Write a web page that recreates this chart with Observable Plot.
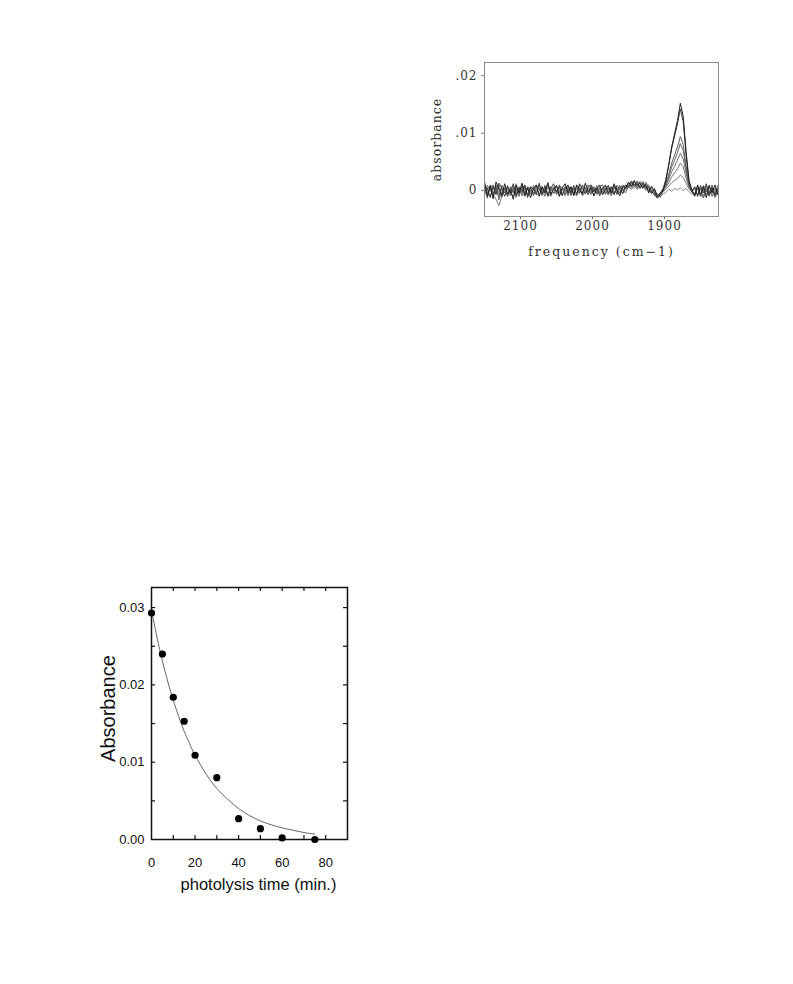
<!DOCTYPE html>
<html>
<head>
<meta charset="utf-8">
<script src="https://cdn.jsdelivr.net/npm/d3@7"></script>
<script src="https://cdn.jsdelivr.net/npm/@observablehq/plot@0.6"></script>
<style>
  html, body { margin: 0; padding: 0; background: #fff; }
  body { width: 793px; height: 984px; position: relative; overflow: hidden; }
  #spectrum { position: absolute; left: 420px; top: 50px; }
  #decay { position: absolute; left: 90px; top: 575px; }
</style>
</head>
<body>
<div id="spectrum"></div>
<div id="decay"></div>
<script>
// ---------- Top chart: IR spectra (absorbance in units of 0.001) ----------
const freqStart = 2150, freqStep = 4, freqCount = 82;
const freqTicks = [2100, 2000, 1900];
const absTicks = [0, 10, 20];
const absTickLabels = ["0", ".01", ".02"];

const trace0 = [1.6,-1.0,0.8,-1.4,1.5,0.3,-0.9,1.2,-0.6,0.2,
  -1.5,0.9,-0.4,1.3,-0.8,0.5,-1.2,0.4,1.0,-0.9,
  0.7,-0.4,1.4,-0.6,0.2,0.9,-1.0,0.5,1.2,-0.4,
  0.7,-0.8,1.0,0.2,-0.6,1.3,-0.2,0.5,-0.9,0.4,
  1.0,-0.7,0.2,0.9,-0.5,1.2,0.0,-0.9,0.7,0.4,
  1.5,0.7,1.6,0.9,1.3,0.5,1.1,-0.4,0.8,-0.2,
  -1.2,-0.7,
  0.0,1.8,4.6,7.6,9.9,12.2,15.2,12.9,6.8,1.8,0.2,
  -0.9,1.0,-0.6,0.7,-1.2,0.9,-0.4,1.0,-0.7];
const trace1 = [1.0,0.3,-1.2,0.9,-0.7,1.3,0.5,-1.0,0.7,-0.4,
  1.2,-0.9,0.5,-0.2,1.0,-1.2,0.7,0.2,-0.7,1.3,
  -0.5,0.9,-1.0,0.4,1.2,-0.2,0.7,-0.9,0.5,1.0,
  -0.4,0.9,-0.7,1.2,0.4,-0.5,0.7,1.0,-0.2,0.5,
  -0.9,0.4,1.0,-0.4,0.7,-0.7,0.9,0.2,-0.5,1.0,
  0.7,1.7,0.9,1.5,0.4,1.3,0.7,0.2,-0.5,0.4,
  -0.9,-0.4,
  0.3,2.0,4.5,7.4,9.5,11.6,14.2,12.0,6.2,1.5,-0.2,
  0.7,-1.0,0.9,-0.4,1.2,-0.7,0.5,-0.9,0.4];
const trace2 = [0.5,-1.3,1.0,-0.5,0.4,-0.9,0.9,0.2,-1.0,0.7,
  -0.4,1.2,-0.7,0.5,0.9,-0.9,0.4,-0.5,1.0,0.2,
  -0.7,0.5,1.0,-0.9,0.4,-0.2,0.9,0.5,-0.7,0.7,
  0.4,-0.9,0.7,-0.4,1.0,0.2,-0.7,0.9,0.4,-0.5,
  0.7,1.0,-0.5,0.5,-0.2,0.9,-0.7,0.4,1.0,0.5,
  1.2,0.9,1.8,0.5,1.0,1.6,0.4,0.7,-0.4,0.2,
  -1.0,-0.5,
  0.2,1.3,2.9,4.8,6.2,7.6,9.4,8.0,4.2,1.0,-0.3,
  -0.7,0.5,-1.0,0.9,0.2,-0.9,0.7,-0.5,0.9];
const trace3 = [-0.4,0.9,0.2,-0.9,1.0,-1.6,0.5,-0.4,0.9,-0.7,
  0.5,0.2,-1.0,0.9,-0.4,0.7,0.0,-0.9,0.5,1.0,
  -0.5,0.4,-0.9,0.7,0.2,-0.4,1.0,-0.7,0.4,0.7,
  -0.9,0.5,0.2,-0.5,0.9,0.4,-0.7,0.7,-0.2,0.9,
  -0.4,0.5,0.9,-0.7,0.4,0.7,-0.5,0.9,0.2,-0.4,
  0.9,1.3,0.7,1.7,1.2,0.4,1.5,0.5,0.0,-0.5,
  -1.3,-0.4,
  -0.1,1.0,2.5,4.1,5.3,6.6,8.2,7.0,3.7,0.9,0.1,
  0.5,-0.9,0.4,-1.2,0.7,-0.4,1.0,-1.0,0.2];
const trace4 = [0.7,-0.5,-0.9,0.4,-0.4,1.0,-0.7,0.5,-1.0,0.4,
  0.9,-0.5,0.4,-0.9,0.7,0.2,-0.5,0.9,-0.4,0.0,
  0.5,-1.0,0.7,0.4,-0.5,0.9,-0.4,0.2,0.7,-0.9,
  0.5,0.2,-0.5,0.9,-0.7,0.4,1.0,-0.4,0.5,-0.7,
  0.4,-0.2,0.7,0.2,-0.9,0.5,0.4,-0.5,0.7,0.9,
  0.5,1.5,1.0,0.7,1.6,0.9,0.5,1.0,-0.2,-0.7,
  -0.5,-1.0,
  0.3,0.8,2.0,3.3,4.2,5.3,6.5,5.5,3.0,0.8,0.0,
  -0.5,0.7,-0.9,0.5,-0.2,0.9,-1.0,0.4,-0.4];
const trace5 = [-0.7,0.5,0.4,-1.0,0.7,-0.4,-1.2,0.4,0.2,-0.7,
  0.4,-1.2,0.7,-0.5,-1.0,0.4,0.5,-0.7,-0.2,0.5,
  -0.9,0.2,-0.4,-1.0,0.5,-0.7,0.2,-0.5,-0.2,0.4,
  -0.7,0.0,-0.4,0.5,-0.9,-0.2,0.4,-0.5,0.7,-0.4,
  -0.2,0.5,-0.7,0.4,0.0,-0.5,0.5,-0.4,0.2,0.4,
  0.7,0.4,1.2,0.2,0.9,0.5,1.0,-0.2,0.4,-0.9,
  -0.7,-1.2,
  0.0,0.6,1.4,2.4,3.1,3.8,4.8,4.1,2.2,0.6,-0.2,
  -1.0,0.4,-0.7,-1.3,0.2,-0.9,0.5,-1.2,-0.2];
const trace6 = [0.4,-0.5,0.9,-0.7,-1.5,-2.6,-1.0,0.5,-0.4,-0.9,
  0.2,-0.7,0.5,-0.4,0.4,-0.9,0.0,0.5,-0.5,-1.0,
  0.4,-0.2,-0.7,0.5,-0.5,0.0,-0.9,0.4,0.2,-0.7,
  0.5,-0.4,-0.9,0.2,0.4,-0.5,0.0,-0.7,0.5,-0.2,
  -0.5,0.4,0.0,-0.7,0.5,-0.4,0.2,0.7,-0.5,0.4,
  0.9,0.2,0.7,1.2,0.4,1.0,0.0,0.5,-0.5,0.2,
  -0.9,-0.4,
  -0.3,0.3,0.8,1.4,1.8,2.1,2.7,2.3,1.3,0.3,-0.2,
  0.4,-0.7,0.5,-1.0,0.2,-0.5,0.7,-0.9,0.0];
const trace7 = [0.2,-0.9,0.5,1.0,-0.5,0.4,-0.7,0.2,0.7,-0.4,
  -0.9,0.4,-0.2,0.5,-1.0,-0.4,0.5,-0.7,0.2,0.4,
  -0.7,0.5,-0.4,0.0,0.7,-0.5,-0.2,0.4,-0.9,0.2,
  -0.4,0.5,-0.7,0.0,-0.2,0.5,-0.5,0.2,-0.9,0.4,
  0.0,-0.7,0.4,-0.4,0.5,-0.2,-0.5,0.7,0.0,0.2,
  0.5,1.0,0.4,0.9,0.5,1.3,0.2,0.7,0.0,-0.7,
  -1.3,-0.9,
  -0.6,-0.3,0.2,-0.1,0.4,0.1,0.5,0.0,0.4,-0.2,-0.6,
  -0.5,0.4,-0.9,0.2,-0.4,-1.0,0.5,-0.7,0.2];

const traces = [trace7, trace6, trace5, trace4, trace3, trace2, trace1, trace0];
const traceNames = ["t7","t6","t5","t4","t3","t2","t1","t0"];
const traceColors = ["#8a8a8a","#7a7a7a","#767676","#6e6e6e","#666","#5e5e5e","#3a3a3a","#1e1e1e"];

const freqs = d3.range(freqCount).map(i => freqStart - i * freqStep);
const spectra = traces.flatMap((tr, j) => tr.map((v, i) => ({freq: freqs[i], abs: v, name: traceNames[j]})));

const serif = "'DejaVu Serif', serif";
const spectrumChart = Plot.plot({
  width: 310, height: 220,
  marginLeft: 64, marginRight: 12, marginTop: 12, marginBottom: 54,
  style: {fontFamily: serif, fontSize: "12px", color: "#333", background: "white", letterSpacing: "1px"},
  x: {domain: [2150, 1825]},
  y: {domain: [-4.5, 22.3]},
  color: {domain: traceNames, range: traceColors},
  marks: [
    Plot.line(spectra, {x: "freq", y: "abs", z: "name", stroke: "name", strokeWidth: 1, clip: true}),
    Plot.frame({stroke: "#8c8c8c", strokeWidth: 1}),
    Plot.axisY(absTicks, {tickFormat: (d, i) => absTickLabels[i], tickSize: 3, tickPadding: 4, stroke: "#777", label: null, fontSize: 12}),
    Plot.axisX(freqTicks, {tickFormat: d3.format("d"), tickSize: 3, tickPadding: 2, stroke: "#777", label: null, fontSize: 12}),
    Plot.text(["absorbance"], {frameAnchor: "left", textAnchor: "middle", rotate: -90, dx: -48, fill: "#333", fontSize: 12.5}),
    Plot.text(["frequency (cm\u22121)"], {frameAnchor: "bottom", dy: 39, fill: "#333", fontSize: 12.5, style: {letterSpacing: "2px"}})
  ]
});
document.getElementById("spectrum").appendChild(spectrumChart);
spectrumChart.querySelectorAll("text").forEach(t => { if (t.textContent.startsWith("frequency")) t.style.letterSpacing = "2px"; });

// ---------- Bottom chart: absorbance decay vs photolysis time ----------
const timeMin = [0, 5, 10, 15, 20, 30, 40, 50, 60, 75];
const absorbance = [0.0293, 0.0240, 0.0184, 0.0153, 0.0109, 0.0080, 0.0027, 0.0014, 0.0002, 0.0000];
const fitTime = [0, 2.5, 5, 7.5, 10, 12.5, 15, 17.5, 20, 25, 30, 35, 40, 45, 50, 55, 60, 65, 70, 75];
const fitAbs = [0.0297, 0.0262, 0.0231, 0.0204, 0.0180, 0.0159, 0.0140, 0.0124, 0.0109, 0.0085, 0.0066, 0.0052, 0.0040, 0.0031, 0.0024, 0.0019, 0.0015, 0.0012, 0.0009, 0.0007];
const timeTicks = [0, 20, 40, 60, 80];
const timeMinorTicks = [10, 20, 30, 40, 50, 60, 70, 80];
const absLabelTicks = [0, 0.01, 0.02, 0.03];
const absMinorTicks = [0.005, 0.01, 0.015, 0.02, 0.025, 0.03];

const sans = "'Liberation Sans', Arial, sans-serif";
const W = 270, H = 320, mL = 61, mR = 13, mT = 12, mB = 56;
const frameW = W - mL - mR, frameH = H - mT - mB;
const tickLen = 4;
const decayChart = Plot.plot({
  width: W, height: H,
  marginLeft: mL, marginRight: mR, marginTop: mT, marginBottom: mB,
  style: {fontFamily: sans, fontSize: "13px", color: "#111", background: "white"},
  x: {domain: [0, 90]},
  y: {domain: [0, 0.0326]},
  marks: [
    Plot.line(fitTime.map((t, i) => ({t, a: fitAbs[i]})), {x: "t", y: "a", curve: "natural", stroke: "#555", strokeWidth: 0.9}),
    Plot.tickX(timeMinorTicks, {x: d => d, insetTop: frameH - tickLen, stroke: "#111", strokeWidth: 1.2}),
    Plot.tickX(timeMinorTicks, {x: d => d, insetBottom: frameH - tickLen, stroke: "#111", strokeWidth: 1.2}),
    Plot.tickY(absMinorTicks, {y: d => d, insetRight: frameW - tickLen, stroke: "#111", strokeWidth: 1.2}),
    Plot.tickY(absMinorTicks, {y: d => d, insetLeft: frameW - tickLen, stroke: "#111", strokeWidth: 1.2}),
    Plot.frame({stroke: "#111", strokeWidth: 1.5}),
    Plot.dot(timeMin.map((t, i) => ({t, a: absorbance[i]})), {x: "t", y: "a", r: 3.6, fill: "#000", stroke: "none"}),
    Plot.axisY(absLabelTicks, {tickFormat: d3.format(".2f"), tickSize: 0, tickPadding: 7, label: null, fontSize: 13}),
    Plot.axisX(timeTicks, {tickSize: 0, tickPadding: 18, label: null, fontSize: 13}),
    Plot.text(["Absorbance"], {frameAnchor: "left", textAnchor: "middle", rotate: -90, dx: -43, dy: -5, fontSize: 20, fill: "#111"}),
    Plot.text(["photolysis time (min.)"], {frameAnchor: "bottom", dx: 9, dy: 50, fontSize: 16.5, fill: "#111"})
  ]
});
document.getElementById("decay").appendChild(decayChart);
</script>
</body>
</html>
